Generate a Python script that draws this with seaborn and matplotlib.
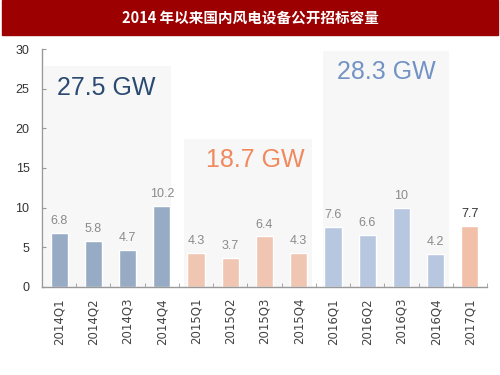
import numpy as np
import matplotlib
matplotlib.use("Agg")
from matplotlib import pyplot as plt
from matplotlib.patches import Rectangle
import seaborn as sns

quarters = ["2014Q1", "2014Q2", "2014Q3", "2014Q4",
            "2015Q1", "2015Q2", "2015Q3", "2015Q4",
            "2016Q1", "2016Q2", "2016Q3", "2016Q4",
            "2017Q1"]
capacity = [6.8, 5.8, 4.7, 10.2, 4.3, 3.7, 6.4, 4.3, 7.6, 6.6, 10, 4.2, 7.7]
bar_colors = ["#97abc5"] * 4 + ["#f0c6b3"] * 4 + ["#b7c7e0"] * 4 + ["#f2c0a9"]

# yearly totals and their shaded panels (start, end, top)
year_totals = ["27.5 GW", "18.7 GW", "28.3 GW"]
total_colors = ["#2a4a72", "#f0895e", "#7393c4"]
panel_spans = [(-0.44, 3.27, 27.9), (3.65, 7.38, 18.7), (7.70, 11.39, 29.8)]
label_pos = [(1.37, 25.1), (5.72, 16.0), (9.55, 27.1)]

sns.set_style("white")
plt.rcParams['font.family'] = ['Liberation Sans', 'DejaVu Sans']

fig = plt.figure(figsize=(5, 3.75), dpi=100)
fig.patches.append(Rectangle((0.004, 0.907), 0.992, 0.093, transform=fig.transFigure,
                             color="#9c0000", zorder=0))
fig.text(0.5, 0.953, "2014 年以来国内风电设备公开招标容量", color="white",
         fontsize=10.5, fontweight="bold", ha="center", va="center",
         family=['Noto Sans CJK SC', 'DejaVu Sans'])

ax = fig.add_axes([0.084, 0.235, 0.89, 0.634])

for (x0, x1, top) in panel_spans:
    ax.add_patch(Rectangle((x0, 0), x1 - x0, top, color="#f7f7f7", zorder=0, lw=0))

sns.barplot(x=quarters, y=capacity, hue=quarters, palette=bar_colors, legend=False,
            width=0.5, ax=ax, zorder=2, saturation=1)

for i, cont in enumerate(ax.containers):
    c = "#333333" if i == len(ax.containers) - 1 else "#8a8a8a"
    ax.bar_label(cont, labels=[f"{capacity[i]:g}"], padding=4, fontsize=9, color=c)

for txt, col, (x, y) in zip(year_totals, total_colors, label_pos):
    ax.text(x, y, txt, color=col, fontsize=18, ha="center", va="center")

ax.set_xlim(-0.5, 12.5)
ax.set_ylim(0, 30)
ax.set_yticks([0, 5, 10, 15, 20, 25, 30])
ax.tick_params(axis="y", labelsize=9, labelcolor="#333333", direction="in",
               length=3, left=True, color="#999999", pad=9)
ax.tick_params(axis="x", labelsize=8.5, labelcolor="#444444", rotation=90,
               length=0, pad=8)
for lbl in ax.get_xticklabels():
    lbl.set_family("DejaVu Sans")
ax.set_xticks(np.arange(-0.5, 13, 1), minor=True)
ax.tick_params(axis="x", which="minor", direction="in", length=3, bottom=True,
               color="#999999")
for side in ["top", "right"]:
    ax.spines[side].set_visible(False)
for side in ["left", "bottom"]:
    ax.spines[side].set_color("#999999")
    ax.spines[side].set_linewidth(1)
ax.set_facecolor("none")

fig.savefig("out.png", dpi=100)
